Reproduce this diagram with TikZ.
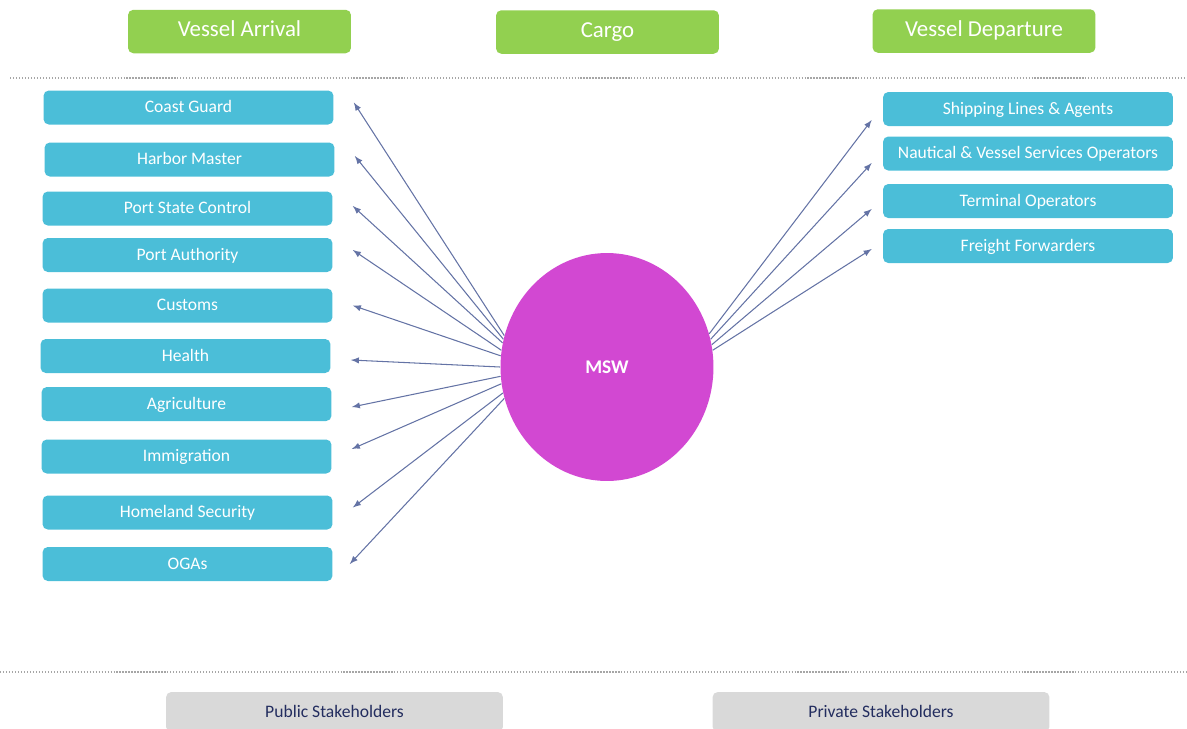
\documentclass[tikz,border=0pt]{standalone}
\usepackage{fontspec}
\setmainfont{Carlito}
\definecolor{grn}{RGB}{146,208,80}
\definecolor{cyn}{RGB}{75,190,216}
\definecolor{mag}{RGB}{210,72,210}
\definecolor{lgray}{RGB}{217,217,217}
\definecolor{navy}{RGB}{35,45,95}
\definecolor{linkcol}{RGB}{100,115,165}
\usetikzlibrary{shapes.geometric}

\begin{document}
\begin{tikzpicture}[x=0.02cm,y=-0.02cm,
    greenbox/.style={fill=grn,rounded corners=3pt,text=white,font=\fontsize{13}{15}\selectfont,minimum width=4.46cm,minimum height=0.87cm,text height=1.6ex,text depth=.4ex},
    bluebox/.style={fill=cyn,rounded corners=3pt,text=white,font=\fontsize{10}{12}\selectfont,minimum width=5.8cm,minimum height=0.68cm,inner sep=1pt,text height=1.6ex,text depth=.4ex},
    greybox/.style={fill=lgray,rounded corners=3pt,text=navy,font=\fontsize{10}{12}\selectfont,minimum width=6.74cm,minimum height=0.8cm,text height=1.6ex,text depth=.4ex},
    link/.style={-latex,draw=linkcol,line width=0.6pt}]
    \clip(0,0)rectangle(1187,728);
    % header
    \node[greenbox](va)at(239.5,31.5){Vessel Arrival};
    \node[greenbox](cargo)at(607.5,32){Cargo};
    \node[greenbox](vd)at(984,31){Vessel Departure};
    \draw[gray!70,densely dotted,line width=0.7pt](10,78)--(1187,78);
    % public side
    \node[bluebox](cg)at(188.5,107.5){Coast Guard};
    \node[bluebox](hm)at(189.5,159.5){Harbor Master};
    \node[bluebox](psc)at(187.5,208.5){Port State Control};
    \node[bluebox](pa)at(187.5,255){Port Authority};
    \node[bluebox](cus)at(187.5,305.5){Customs};
    \node[bluebox](hea)at(185.5,356){Health};
    \node[bluebox](agr)at(186.5,404){Agriculture};
    \node[bluebox](imm)at(186.5,456.5){Immigration};
    \node[bluebox](hs)at(187.5,512.5){Homeland Security};
    \node[bluebox](oga)at(187.5,564){OGAs};
    % private side
    \node[bluebox](sla)at(1028,109){Shipping Lines \& Agents};
    \node[bluebox](nvs)at(1028,153.5){Nautical \& Vessel Services Operators};
    \node[bluebox](to)at(1028,201){Terminal Operators};
    \node[bluebox](ff)at(1028,246){Freight Forwarders};
    % single window
    \node[ellipse,fill=mag,minimum width=4.26cm,minimum height=4.56cm,text=white,font=\fontsize{11}{13}\selectfont\bfseries](msw)at(607,367){MSW};
    \draw[link](msw.163)--([xshift=0.4cm,yshift=0.1cm]cg.east);
    \draw[link](msw.165)--([xshift=0.4cm,yshift=0.07cm]hm.east);
    \draw[link](msw.167)--([xshift=0.4cm,yshift=0.05cm]psc.east);
    \draw[link](msw.171)--([xshift=0.4cm,yshift=0.1cm]pa.east);
    \draw[link](msw.174)--([xshift=0.4cm]cus.east);
    \draw[link](msw.180)--([xshift=0.4cm,yshift=-0.08cm]hea.east);
    \draw[link](msw.185)--([xshift=0.4cm,yshift=-0.06cm]agr.east);
    \draw[link](msw.189)--([xshift=0.4cm,yshift=0.15cm]imm.east);
    \draw[link](msw.194)--([xshift=0.4cm,yshift=0.1cm]hs.east);
    \draw[link](msw.197)--([xshift=0.34cm]oga.east);
    \draw[link](msw.18)--([xshift=-0.22cm,yshift=-0.22cm]sla.west);
    \draw[link](msw.15)--([xshift=-0.22cm,yshift=-0.19cm]nvs.west);
    \draw[link](msw.12)--([xshift=-0.22cm,yshift=-0.16cm]to.west);
    \draw[link](msw.9)--([xshift=-0.22cm,yshift=-0.06cm]ff.west);
    % footer
    \draw[gray!70,densely dotted,line width=0.7pt](0,672)--(1187,672);
    \node[greybox](pub)at(334.5,712){Public Stakeholders};
    \node[greybox](priv)at(881,712){Private Stakeholders};
\end{tikzpicture}
\end{document}
